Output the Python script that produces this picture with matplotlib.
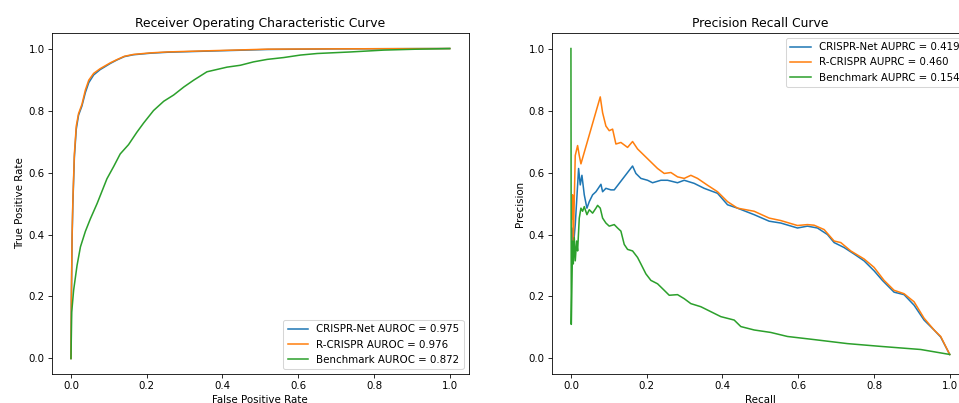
import matplotlib
matplotlib.use('Agg')
import matplotlib.pyplot as plt

# ROC curves (false positive rate, true positive rate)
roc_net_fpr = [0.0, 0.001, 0.003, 0.005, 0.009, 0.014, 0.02, 0.029, 0.038, 0.047, 0.06, 0.077,
               0.104, 0.121, 0.141, 0.165, 0.21, 0.254, 0.34, 0.43, 0.52, 0.7, 1.0]
roc_net_tpr = [0.0, 0.18, 0.39, 0.50, 0.65, 0.74, 0.785, 0.815, 0.858, 0.89, 0.915, 0.932,
               0.952, 0.963, 0.974, 0.98, 0.985, 0.988, 0.991, 0.994, 0.997, 0.999, 1.0]

roc_r_fpr = [0.0, 0.001, 0.003, 0.005, 0.009, 0.014, 0.02, 0.029, 0.038, 0.047, 0.06, 0.077,
             0.104, 0.121, 0.141, 0.165, 0.21, 0.254, 0.34, 0.43, 0.52, 0.7, 1.0]
roc_r_tpr = [0.0, 0.19, 0.40, 0.51, 0.66, 0.75, 0.79, 0.82, 0.866, 0.898, 0.92, 0.935,
             0.954, 0.964, 0.975, 0.981, 0.986, 0.989, 0.992, 0.995, 0.998, 0.999, 1.0]

roc_bm_fpr = [0.0, 0.002, 0.007, 0.016, 0.025, 0.038, 0.051, 0.069, 0.082, 0.095, 0.113, 0.130,
              0.152, 0.174, 0.192, 0.218, 0.245, 0.271, 0.298, 0.324, 0.359, 0.412, 0.447,
              0.482, 0.518, 0.562, 0.606, 0.65, 0.738, 0.826, 0.914, 1.0]
roc_bm_tpr = [0.0, 0.15, 0.22, 0.30, 0.36, 0.41, 0.45, 0.50, 0.54, 0.58, 0.62, 0.66,
              0.69, 0.73, 0.76, 0.80, 0.83, 0.85, 0.876, 0.898, 0.925, 0.94, 0.946,
              0.957, 0.965, 0.971, 0.979, 0.984, 0.989, 0.995, 0.998, 1.0]

# PR curves (recall, precision)
pr_net_rec = [0.003, 0.0062, 0.0114, 0.0202, 0.0246, 0.029, 0.0352, 0.0422, 0.0484, 0.0572,
              0.066, 0.0721, 0.0792, 0.0836, 0.0923, 0.1055, 0.1143, 0.1627, 0.1715, 0.1847,
              0.2023, 0.2155, 0.2375, 0.2551, 0.2814, 0.299, 0.3254, 0.3518, 0.387, 0.4134,
              0.4398, 0.4837, 0.5233, 0.5541, 0.5981, 0.6245, 0.6508, 0.6772, 0.6948, 0.7212,
              0.7476, 0.774, 0.8003, 0.8223, 0.8531, 0.8795, 0.9059, 0.9323, 0.9587, 0.9763, 1.0]
pr_net_prec = [0.42, 0.358, 0.432, 0.613, 0.56, 0.591, 0.528, 0.485, 0.506, 0.528,
               0.538, 0.549, 0.562, 0.538, 0.549, 0.544, 0.544, 0.621, 0.597, 0.581,
               0.575, 0.567, 0.575, 0.575, 0.567, 0.575, 0.565, 0.549, 0.533, 0.496,
               0.485, 0.464, 0.443, 0.437, 0.421, 0.427, 0.421, 0.40, 0.374, 0.358,
               0.337, 0.315, 0.283, 0.252, 0.214, 0.206, 0.172, 0.124, 0.092, 0.069, 0.013]

pr_r_rec = [0.003, 0.0044, 0.0062, 0.0114, 0.0176, 0.022, 0.0264, 0.0774, 0.0836, 0.0923,
            0.1011, 0.11, 0.1187, 0.1319, 0.1495, 0.1627, 0.1759, 0.1935, 0.2111, 0.2287,
            0.2463, 0.2639, 0.2814, 0.299, 0.3166, 0.3342, 0.3606, 0.387, 0.4134, 0.4398,
            0.4837, 0.5233, 0.5541, 0.5981, 0.6245, 0.642, 0.6684, 0.6948, 0.7124, 0.7388,
            0.774, 0.8003, 0.8267, 0.8531, 0.8795, 0.9059, 0.9323, 0.9587, 0.9763, 1.0]
pr_r_prec = [0.45, 0.528, 0.368, 0.655, 0.687, 0.655, 0.628, 0.844, 0.793, 0.75,
             0.735, 0.74, 0.692, 0.697, 0.681, 0.70, 0.676, 0.655, 0.634, 0.613,
             0.597, 0.60, 0.586, 0.581, 0.591, 0.581, 0.559, 0.538, 0.506, 0.485,
             0.475, 0.453, 0.445, 0.429, 0.432, 0.43, 0.416, 0.379, 0.374, 0.347,
             0.321, 0.294, 0.252, 0.22, 0.209, 0.183, 0.13, 0.092, 0.071, 0.013]

pr_bm_rec = [0.0, 0.0009, 0.0026, 0.0044, 0.0062, 0.0088, 0.0114, 0.015, 0.0176, 0.022,
             0.0264, 0.0308, 0.0352, 0.0422, 0.0484, 0.0572, 0.066, 0.0704, 0.0774, 0.0836,
             0.0923, 0.1011, 0.1143, 0.1231, 0.1319, 0.1407, 0.1495, 0.1627, 0.1759, 0.1847,
             0.1979, 0.2111, 0.2287, 0.2463, 0.2595, 0.2814, 0.299, 0.3166, 0.343, 0.3694,
             0.3958, 0.431, 0.4485, 0.4837, 0.5277, 0.5717, 0.642, 0.73, 0.818, 0.9235, 1.0]
pr_bm_prec = [1.0, 0.11, 0.24, 0.379, 0.305, 0.39, 0.315, 0.379, 0.347, 0.453,
              0.485, 0.475, 0.49, 0.464, 0.48, 0.469, 0.485, 0.494, 0.485, 0.453,
              0.437, 0.427, 0.432, 0.421, 0.411, 0.368, 0.352, 0.347, 0.326, 0.305,
              0.273, 0.252, 0.241, 0.22, 0.204, 0.206, 0.193, 0.177, 0.167, 0.151,
              0.135, 0.124, 0.103, 0.092, 0.084, 0.071, 0.061, 0.048, 0.039, 0.029, 0.013]

roc_labels = ['CRISPR-Net AUROC = 0.975', 'R-CRISPR AUROC = 0.976', 'Benchmark AUROC = 0.872']
pr_labels = ['CRISPR-Net AUPRC = 0.419', 'R-CRISPR AUPRC = 0.460', 'Benchmark AUPRC = 0.154']

S = 0.74  # shrink factor: the original was drawn bigger and scaled down
fig = plt.figure(figsize=(9.6 / S, 4.03 / S), dpi=100 * S)

ax1 = fig.add_axes([0.0542, 0.072, 0.434, 0.846])
ax2 = fig.add_axes([0.575, 0.072, 0.434, 0.846])

ax1.plot(roc_net_fpr, roc_net_tpr, label=roc_labels[0])
ax1.plot(roc_r_fpr, roc_r_tpr, label=roc_labels[1])
ax1.plot(roc_bm_fpr, roc_bm_tpr, label=roc_labels[2])
ax1.set_title('Receiver Operating Characteristic Curve')
ax1.set_xlabel('False Positive Rate')
ax1.set_ylabel('True Positive Rate')
ax1.legend(loc='lower right')

ax2.plot(pr_net_rec, pr_net_prec, label=pr_labels[0])
ax2.plot(pr_r_rec, pr_r_prec, label=pr_labels[1])
ax2.plot(pr_bm_rec, pr_bm_prec, label=pr_labels[2])
ax2.set_title('Precision Recall Curve')
ax2.set_xlabel('Recall')
ax2.set_ylabel('Precision')
ax2.legend(loc='upper right')

for ax in (ax1, ax2):
    ax.set_xlim(-0.05, 1.05)
    ax.set_ylim(-0.05, 1.05)

fig.savefig('out.png', dpi=100 * S)
